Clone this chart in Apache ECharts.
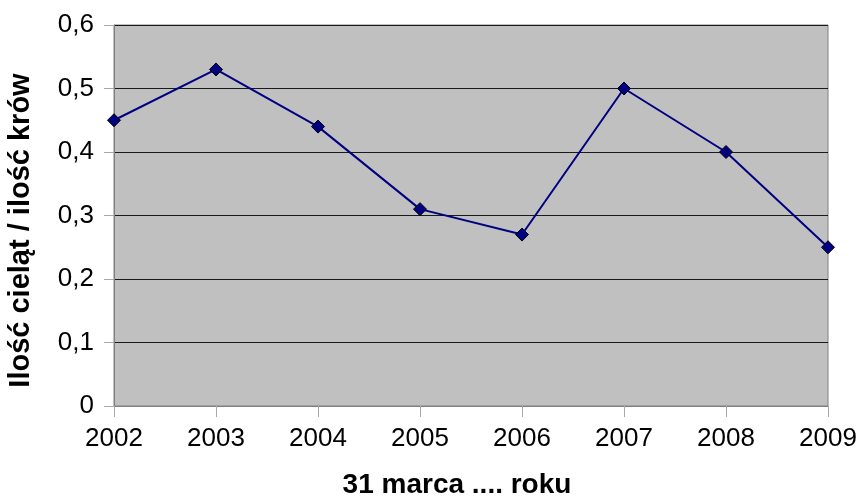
<!DOCTYPE html>
<html><head><meta charset="utf-8">
<script src="https://cdn.jsdelivr.net/npm/echarts@6/dist/echarts.min.js"></script>
<style>html,body{margin:0;padding:0;background:#fff}#c{width:861px;height:498px}</style>
</head><body><div id="c"></div>
<script>
const categories = ['2002','2003','2004','2005','2006','2007','2008','2009'];
const ratios = [0.45, 0.53, 0.44, 0.31, 0.27, 0.50, 0.40, 0.25];
const yTitle = 'Ilość cieląt / ilość krów';
const xTitle = '31 marca .... roku';

const chart = echarts.init(document.getElementById('c'), null, {renderer:'canvas'});
const font = '"Liberation Sans", Arial, sans-serif';
chart.setOption({
  animation: false,
  grid: {left: 114, right: 33, top: 25, bottom: 92, containLabel: false, outerBoundsMode: 'none',
    show: true, backgroundColor: '#C0C0C0', borderColor: '#808080', borderWidth: 1},
  xAxis: {
    type: 'category', data: categories, boundaryGap: false,
    name: xTitle, nameLocation: 'middle', nameGap: 65,
    nameTextStyle: {fontFamily: font, fontSize: 28, fontWeight: 'bold', color: '#000', padding: [0, 28, 0, 0]},
    axisLine: {lineStyle: {color: '#808080', width: 1}},
    axisTick: {show: true, length: 11, lineStyle: {color: '#A8A8A8'}},
    axisLabel: {fontFamily: font, fontSize: 26, color: '#000', margin: 20},
    splitLine: {show: false}
  },
  yAxis: {
    type: 'value', min: 0, max: 0.6, interval: 0.1,
    name: yTitle, nameLocation: 'middle', nameGap: 79, nameRotate: 90,
    nameTextStyle: {fontFamily: font, fontSize: 29, fontWeight: 'bold', color: '#000', padding: [0, 30, 0, 0]},
    axisLine: {show: true, lineStyle: {color: '#808080', width: 1}},
    axisTick: {show: true, length: 10, lineStyle: {color: '#A8A8A8'}},
    axisLabel: {fontFamily: font, fontSize: 26, color: '#000', margin: 20,
      formatter: v => String(Math.round(v*10)/10).replace('.', ',')},
    splitLine: {show: true, lineStyle: {color: '#1a1a1a', width: 1}}
  },
  series: [{
    type: 'line', data: ratios,
    lineStyle: {color: '#000080', width: 2},
    itemStyle: {color: '#000080', borderColor: '#000', borderWidth: 1},
    symbol: 'diamond', symbolSize: 13
  }]
});
</script></body></html>
